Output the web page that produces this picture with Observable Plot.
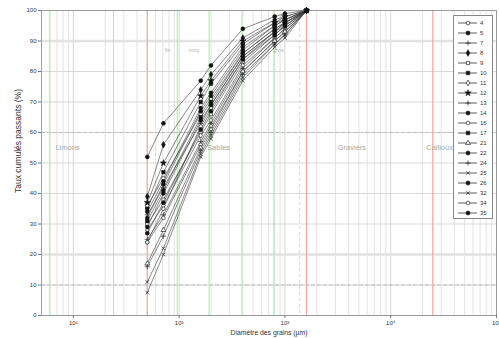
<!DOCTYPE html>
<html><head><meta charset="utf-8">
<script src="https://cdn.jsdelivr.net/npm/d3@7"></script>
<script src="https://cdn.jsdelivr.net/npm/@observablehq/plot@0.6"></script>
<style>
body{margin:0;background:#fff;font-family:"Liberation Sans",Arial,sans-serif;}
#wrap{position:relative;width:499px;height:338px;}
#legend{position:absolute;left:453px;top:15px;width:40px;height:204px;border:1px solid #888;background:#fff;box-sizing:border-box;}
#legend .row{position:absolute;left:0;height:10px;width:38px;}
#legend svg{position:absolute;left:2px;top:0;}
#legend span{position:absolute;left:26px;top:1px;font-size:6px;color:#333;line-height:8px;}
</style></head><body><div id="wrap"></div>
<script>
// sieve sizes (µm)
const sieves = [50, 71, 160, 200, 400, 800, 1000, 1600];
const sampleIds = ["4","5","7","8","9","10","11","12","13","14","16","17","21","22","24","25","26","32","34","35"];
// cumulative passing (%) at each sieve
const s4  = [36, 45, 66, 71, 86, 94, 96, 100];
const s5  = [52, 63, 77, 82, 94, 98, 99, 100];
const s7  = [33, 42, 63, 69, 85, 93, 96, 100];
const s8  = [39, 56, 74, 79, 91, 97, 98, 100];
const s9  = [30, 38, 60, 66, 83, 92, 95, 100];
const s10 = [35, 47, 70, 76, 89, 96, 97, 100];
const s11 = [28, 36, 59, 64, 82, 91, 94, 100];
const s12 = [37, 50, 72, 77, 90, 96, 98, 100];
const s13 = [25, 33, 57, 63, 81, 91, 94, 100];
const s14 = [34, 44, 68, 73, 88, 95, 97, 100];
const s16 = [24, 32, 56, 62, 80, 90, 93, 100];
const s17 = [31, 41, 65, 70, 86, 94, 96, 100];
const s21 = [17, 28, 55, 61, 80, 90, 93, 100];
const s22 = [29, 40, 64, 69, 85, 93, 96, 100];
const s24 = [16, 26, 54, 60, 79, 89, 92, 100];
const s25 = [11, 22, 53, 59, 78, 89, 92, 100];
const s26 = [27, 37, 61, 67, 84, 92, 95, 100];
const s32 = [7.5, 20, 52, 58, 77, 88, 91, 100];
const s34 = [24, 35, 62, 68, 84, 93, 95, 100];
const s35 = [32, 43, 67, 72, 87, 95, 97, 100];
const seriesValues = [s4,s5,s7,s8,s9,s10,s11,s12,s13,s14,s16,s17,s21,s22,s24,s25,s26,s32,s34,s35];
const markerSymbols = ["circle","circle","plus","diamond","square","square","diamond","star","plus","circle","circle","square","triangle","circle","plus","times","circle","times","circle","circle"];
const markerFilled  = [false,true,false,true,false,true,false,true,false,true,false,true,false,true,false,false,true,false,false,true];

const xTicks = [10, 100, 1000, 10000, 100000];
const yTicks = [0,10,20,30,40,50,60,70,80,90,100];
const redLines = [50, 1600, 25000];
const greenLines = [6, 24, 96, 192, 393, 787];
const blueDashed = [1380];
const dashedLevels = [10, 60];
const bandLevels = [20, 90];
const zoneLabels = ["Limons", "Sables", "Graviers", "Cailloux"];
const zoneX = [8.8, 236, 4300, 29000];
const subLabels = ["fin", "moy.", "gros."];
const subX = [78, 140, 880];

const table = [];
sampleIds.forEach((id, i) => sieves.forEach((s, j) => table.push({id, size: s, pass: seriesValues[i][j], filled: markerFilled[i]})));

const xDomain = [5, 100000];
const minor = [];
for (let k = 0; k <= 4; k++) for (let m = 2; m <= 9; m++) { const v = m * 10 ** k; if (v > xDomain[0] && v < xDomain[1]) minor.push(v); }

const sup = {"0":"⁰","1":"¹","2":"²","3":"³","4":"⁴","5":"⁵","-":"⁻"};
const fmt = d => "10" + String(Math.round(Math.log10(d))).split("").map(c => sup[c]).join("");

const chart = Plot.plot({
  width: 499, height: 338,
  marginLeft: 41, marginRight: 3, marginTop: 10, marginBottom: 23,
  style: {fontSize: "6px", fontFamily: "Liberation Sans, Arial, sans-serif", color: "#333", background: "#fff"},
  x: {type: "log", domain: xDomain},
  y: {domain: [0, 100]},
  symbol: {domain: sampleIds, range: markerSymbols},
  marks: [
    Plot.ruleX(minor, {stroke: "#dcdcdc", strokeWidth: 0.8}),
    Plot.ruleX(xTicks, {stroke: "#cfcfcf", strokeWidth: 0.8}),
    Plot.ruleY(yTicks, {stroke: "#cfcfcf", strokeWidth: 0.8}),
    Plot.ruleY(bandLevels, {stroke: "#e2e2e2", strokeWidth: 2.5}),
    Plot.ruleY(dashedLevels, {stroke: "#bdbdbd", strokeWidth: 1.2, strokeDasharray: "4,2"}),
    Plot.ruleX(greenLines, {stroke: "#a6eca6", strokeWidth: 1}),
    Plot.ruleX(redLines, {stroke: "#f4a3a3", strokeWidth: 1.2}),
    Plot.ruleX(blueDashed, {stroke: "#c4dcea", strokeWidth: 1, strokeDasharray: "3,3"}),
    Plot.text(zoneLabels, {x: (d, i) => zoneX[i], y: () => 55, text: d => d, fill: "#a3ad9f", fontSize: 7.5}),
    Plot.text(subLabels, {x: (d, i) => subX[i], y: () => 87, text: d => d, fill: "#b5b5b5", fontSize: 5.5}),
    Plot.frame({stroke: "#8a8a8a", strokeWidth: 0.8}),
    Plot.line(table, {x: "size", y: "pass", z: "id", stroke: "#3a3a3a", strokeWidth: 0.7, strokeOpacity: 0.85}),
    Plot.dot(table.filter(d => !d.filled), {x: "size", y: "pass", symbol: "id", r: 1.8, stroke: "#222", strokeWidth: 0.7, fill: "#fff"}),
    Plot.dot(table.filter(d => d.filled), {x: "size", y: "pass", symbol: "id", r: 2, fill: "#111", stroke: "#111", strokeWidth: 0.5}),
    Plot.axisX({ticks: xTicks, tickFormat: fmt, tickSize: 3, tickPadding: 2, stroke: "#777",
      label: "Diamètre des grains (µm)", labelAnchor: "center", labelOffset: 19, labelArrow: "none"}),
    Plot.axisY({ticks: yTicks, tickSize: 3, tickPadding: 2, stroke: "#777",
      label: "Taux cumulés passants (%)", labelAnchor: "center", labelOffset: 27, labelArrow: "none"})
  ]
});
const wrap = document.getElementById("wrap");
wrap.appendChild(chart);

// axis label tweaks (size / placement as in the reference)
const yl = chart.querySelector('g[aria-label="y-axis label"]');
if (yl) { yl.setAttribute("transform", ((yl.getAttribute("transform") || "") + " translate(0,-22)").trim()); yl.style.fontSize = "8.5px"; }
const xl = chart.querySelector('g[aria-label="x-axis label"]');
if (xl) { xl.style.fontSize = "6.8px"; }

// legend
const symMap = {circle: d3.symbolCircle, plus: d3.symbolPlus, diamond: d3.symbolDiamond, square: d3.symbolSquare, star: d3.symbolStar, triangle: d3.symbolTriangle, times: d3.symbolTimes};
const leg = document.createElement("div");
leg.id = "legend";
sampleIds.forEach((id, i) => {
  const row = document.createElement("div");
  row.className = "row";
  row.style.top = (2 + i * 10) + "px";
  const filled = markerFilled[i];
  const path = d3.symbol(symMap[markerSymbols[i]], Math.PI * (filled ? 4 : 3.24))();
  row.innerHTML = `<svg width="22" height="10"><line x1="2" y1="5" x2="21" y2="5" stroke="#333" stroke-width="0.8"/><path d="${path}" transform="translate(12,5)" fill="${filled ? "#111" : "#fff"}" stroke="#222" stroke-width="0.7"/></svg><span>${id}</span>`;
  leg.appendChild(row);
});
wrap.appendChild(leg);
</script></body></html>
